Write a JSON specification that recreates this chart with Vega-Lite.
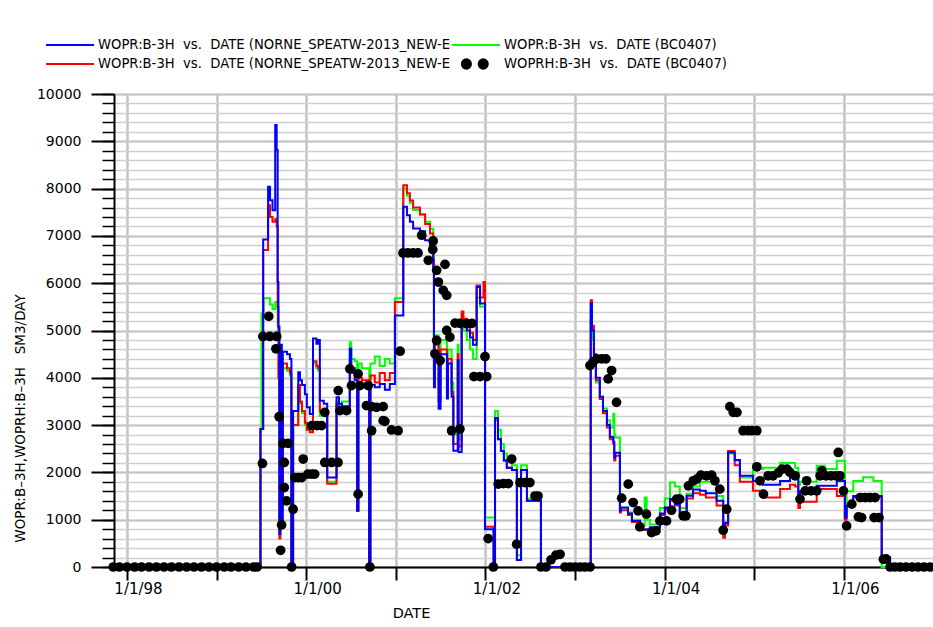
{
  "$schema": "https://vega.github.io/schema/vega-lite/v6.json",
  "width": 819,
  "height": 473,
  "autosize": {"type": "none"},
  "padding": {"left": 114, "top": 94, "right": 0, "bottom": 60},
  "background": "white",
  "config": {
    "view": {"stroke": null},
    "axis": {"labelFont": "DejaVu Sans", "titleFont": "DejaVu Sans", "labelColor": "#000", "titleColor": "#000", "titleFontWeight": "normal"}
  },
  "datasets": {
    "all": [
      {"s":"B","d":"1997-11-09","v":0},{"s":"B","d":"1999-06-29","v":2918},{"s":"B","d":"1999-07-03","v":5360},{"s":"B","d":"1999-07-12","v":5680},{"s":"B","d":"1999-08-07","v":5550},{"s":"B","d":"1999-08-17","v":5450},{"s":"B","d":"1999-08-28","v":5600},{"s":"B","d":"1999-09-07","v":5100},{"s":"B","d":"1999-09-14","v":800},{"s":"B","d":"1999-09-18","v":4300},{"s":"B","d":"1999-09-24","v":1200},{"s":"B","d":"1999-09-28","v":4200},{"s":"B","d":"1999-10-15","v":4150},{"s":"B","d":"1999-10-27","v":4050},{"s":"B","d":"1999-11-02","v":0},{"s":"B","d":"1999-11-09","v":3000},{"s":"B","d":"1999-11-30","v":3800},{"s":"B","d":"1999-12-07","v":3450},{"s":"B","d":"1999-12-15","v":3250},{"s":"B","d":"1999-12-27","v":3000},{"s":"B","d":"2000-01-04","v":2900},{"s":"B","d":"2000-01-16","v":2850},{"s":"B","d":"2000-01-29","v":4300},{"s":"B","d":"2000-02-12","v":4200},{"s":"B","d":"2000-02-19","v":4150},{"s":"B","d":"2000-02-26","v":3200},{"s":"B","d":"2000-03-13","v":3250},{"s":"B","d":"2000-03-27","v":1800},{"s":"B","d":"2000-05-04","v":3500},{"s":"B","d":"2000-05-14","v":3450},{"s":"B","d":"2000-05-26","v":3500},{"s":"B","d":"2000-06-27","v":4750},{"s":"B","d":"2000-07-03","v":4400},{"s":"B","d":"2000-07-17","v":4350},{"s":"B","d":"2000-07-27","v":1187},{"s":"B","d":"2000-08-01","v":4300},{"s":"B","d":"2000-08-15","v":4200},{"s":"B","d":"2000-09-14","v":0},{"s":"B","d":"2000-09-19","v":4300},{"s":"B","d":"2000-10-07","v":4450},{"s":"B","d":"2000-10-27","v":4250},{"s":"B","d":"2000-11-17","v":4400},{"s":"B","d":"2000-12-07","v":4300},{"s":"B","d":"2000-12-28","v":5680},{"s":"B","d":"2001-01-31","v":8000},{"s":"B","d":"2001-02-15","v":7850},{"s":"B","d":"2001-02-27","v":7700},{"s":"B","d":"2001-03-12","v":7550},{"s":"B","d":"2001-04-09","v":7450},{"s":"B","d":"2001-04-30","v":7300},{"s":"B","d":"2001-05-20","v":7150},{"s":"B","d":"2001-06-02","v":6600},{"s":"B","d":"2001-06-05","v":4200},{"s":"B","d":"2001-06-09","v":4900},{"s":"B","d":"2001-06-24","v":3800},{"s":"B","d":"2001-07-02","v":4800},{"s":"B","d":"2001-07-28","v":3900},{"s":"B","d":"2001-08-01","v":4600},{"s":"B","d":"2001-08-16","v":3900},{"s":"B","d":"2001-08-23","v":2800},{"s":"B","d":"2001-09-10","v":4700},{"s":"B","d":"2001-09-13","v":2700},{"s":"B","d":"2001-09-26","v":5300},{"s":"B","d":"2001-10-03","v":5000},{"s":"B","d":"2001-10-17","v":4800},{"s":"B","d":"2001-10-30","v":4600},{"s":"B","d":"2001-11-11","v":4400},{"s":"B","d":"2001-11-26","v":5700},{"s":"B","d":"2001-12-10","v":5500},{"s":"B","d":"2001-12-30","v":1045},{"s":"B","d":"2002-02-09","v":3300},{"s":"B","d":"2002-02-21","v":2900},{"s":"B","d":"2002-03-05","v":2600},{"s":"B","d":"2002-03-17","v":2400},{"s":"B","d":"2002-03-29","v":2250},{"s":"B","d":"2002-04-19","v":2150},{"s":"B","d":"2002-05-09","v":250},{"s":"B","d":"2002-05-26","v":2150},{"s":"B","d":"2002-06-19","v":1450},{"s":"B","d":"2002-08-15","v":0},{"s":"B","d":"2003-03-06","v":5300},{"s":"B","d":"2003-03-11","v":4800},{"s":"B","d":"2003-03-19","v":4300},{"s":"B","d":"2003-03-27","v":3900},{"s":"B","d":"2003-04-12","v":3600},{"s":"B","d":"2003-04-25","v":3350},{"s":"B","d":"2003-05-11","v":3100},{"s":"B","d":"2003-05-23","v":2950},{"s":"B","d":"2003-06-06","v":3240},{"s":"B","d":"2003-06-10","v":2800},{"s":"B","d":"2003-06-14","v":2740},{"s":"B","d":"2003-07-03","v":1250},{"s":"B","d":"2003-08-05","v":1150},{"s":"B","d":"2003-08-21","v":1000},{"s":"B","d":"2003-09-23","v":880},{"s":"B","d":"2003-10-12","v":1470},{"s":"B","d":"2003-10-20","v":1000},{"s":"B","d":"2003-11-02","v":900},{"s":"B","d":"2003-12-13","v":1250},{"s":"B","d":"2004-01-02","v":1450},{"s":"B","d":"2004-01-23","v":1787},{"s":"B","d":"2004-02-12","v":1700},{"s":"B","d":"2004-03-03","v":1250},{"s":"B","d":"2004-03-31","v":1550},{"s":"B","d":"2004-04-26","v":1700},{"s":"B","d":"2004-05-24","v":1800},{"s":"B","d":"2004-06-17","v":1800},{"s":"B","d":"2004-07-31","v":1500},{"s":"B","d":"2004-08-27","v":800},{"s":"B","d":"2004-09-03","v":950},{"s":"B","d":"2004-09-16","v":2400},{"s":"B","d":"2004-10-13","v":2250},{"s":"B","d":"2004-11-03","v":1890},{"s":"B","d":"2004-12-26","v":2070},{"s":"B","d":"2005-02-05","v":2100},{"s":"B","d":"2005-04-16","v":2200},{"s":"B","d":"2005-05-26","v":2200},{"s":"B","d":"2005-06-16","v":2100},{"s":"B","d":"2005-06-29","v":1740},{"s":"B","d":"2005-07-06","v":1800},{"s":"B","d":"2005-09-12","v":2140},{"s":"B","d":"2005-10-15","v":2070},{"s":"B","d":"2005-12-03","v":2246},{"s":"B","d":"2006-01-05","v":1100},{"s":"B","d":"2006-01-12","v":1600},{"s":"B","d":"2006-02-08","v":1820},{"s":"B","d":"2006-03-20","v":1900},{"s":"B","d":"2006-05-01","v":1820},{"s":"B","d":"2006-06-04","v":0},{"s":"B","d":"2006-12-10","v":60},{"s":"B","d":"2006-12-30","v":60},

      {"s":"C","d":"1997-11-09","v":0},{"s":"C","d":"1999-06-29","v":2918},{"s":"C","d":"1999-07-10","v":6700},{"s":"C","d":"1999-07-30","v":7650},{"s":"C","d":"1999-08-07","v":7400},{"s":"C","d":"1999-08-17","v":7300},{"s":"C","d":"1999-08-28","v":7350},{"s":"C","d":"1999-09-03","v":7200},{"s":"C","d":"1999-09-07","v":5500},{"s":"C","d":"1999-09-10","v":4000},{"s":"C","d":"1999-09-14","v":600},{"s":"C","d":"1999-09-18","v":4300},{"s":"C","d":"1999-09-24","v":1300},{"s":"C","d":"1999-09-28","v":4300},{"s":"C","d":"1999-10-15","v":4200},{"s":"C","d":"1999-10-27","v":4100},{"s":"C","d":"1999-11-02","v":0},{"s":"C","d":"1999-11-09","v":3000},{"s":"C","d":"1999-11-30","v":3850},{"s":"C","d":"1999-12-07","v":3500},{"s":"C","d":"1999-12-15","v":3300},{"s":"C","d":"1999-12-27","v":3050},{"s":"C","d":"2000-01-04","v":2900},{"s":"C","d":"2000-01-16","v":2850},{"s":"C","d":"2000-01-29","v":4350},{"s":"C","d":"2000-02-12","v":4250},{"s":"C","d":"2000-02-19","v":4200},{"s":"C","d":"2000-02-26","v":3300},{"s":"C","d":"2000-03-13","v":3300},{"s":"C","d":"2000-03-27","v":1760},{"s":"C","d":"2000-05-04","v":3450},{"s":"C","d":"2000-05-14","v":3350},{"s":"C","d":"2000-05-26","v":3300},{"s":"C","d":"2000-06-27","v":4350},{"s":"C","d":"2000-07-03","v":4100},{"s":"C","d":"2000-07-17","v":4050},{"s":"C","d":"2000-07-27","v":1187},{"s":"C","d":"2000-08-01","v":4000},{"s":"C","d":"2000-08-15","v":3950},{"s":"C","d":"2000-09-14","v":0},{"s":"C","d":"2000-09-19","v":4050},{"s":"C","d":"2000-10-07","v":3900},{"s":"C","d":"2000-10-27","v":4100},{"s":"C","d":"2000-11-17","v":3950},{"s":"C","d":"2000-12-07","v":4100},{"s":"C","d":"2000-12-28","v":5600},{"s":"C","d":"2001-01-31","v":8073},{"s":"C","d":"2001-02-15","v":7900},{"s":"C","d":"2001-02-27","v":7750},{"s":"C","d":"2001-03-12","v":7600},{"s":"C","d":"2001-04-09","v":7450},{"s":"C","d":"2001-04-30","v":7250},{"s":"C","d":"2001-05-20","v":7050},{"s":"C","d":"2001-06-02","v":6500},{"s":"C","d":"2001-06-05","v":4000},{"s":"C","d":"2001-06-09","v":4700},{"s":"C","d":"2001-06-24","v":3500},{"s":"C","d":"2001-07-02","v":4600},{"s":"C","d":"2001-07-28","v":3700},{"s":"C","d":"2001-08-01","v":4400},{"s":"C","d":"2001-08-16","v":3700},{"s":"C","d":"2001-08-23","v":2600},{"s":"C","d":"2001-09-10","v":4500},{"s":"C","d":"2001-09-13","v":2550},{"s":"C","d":"2001-09-26","v":5400},{"s":"C","d":"2001-10-03","v":5250},{"s":"C","d":"2001-10-17","v":5100},{"s":"C","d":"2001-10-30","v":4950},{"s":"C","d":"2001-11-11","v":4800},{"s":"C","d":"2001-11-26","v":5950},{"s":"C","d":"2001-12-10","v":5700},{"s":"C","d":"2001-12-24","v":6024},{"s":"C","d":"2001-12-30","v":850},{"s":"C","d":"2002-02-03","v":0},{"s":"C","d":"2002-02-09","v":3100},{"s":"C","d":"2002-02-21","v":2700},{"s":"C","d":"2002-03-05","v":2450},{"s":"C","d":"2002-03-17","v":2250},{"s":"C","d":"2002-03-29","v":2100},{"s":"C","d":"2002-04-19","v":2050},{"s":"C","d":"2002-05-09","v":150},{"s":"C","d":"2002-05-26","v":2050},{"s":"C","d":"2002-06-19","v":1400},{"s":"C","d":"2002-08-15","v":0},{"s":"C","d":"2003-03-06","v":5640},{"s":"C","d":"2003-03-11","v":5100},{"s":"C","d":"2003-03-19","v":4450},{"s":"C","d":"2003-03-27","v":3950},{"s":"C","d":"2003-04-12","v":3550},{"s":"C","d":"2003-04-25","v":3250},{"s":"C","d":"2003-05-11","v":2950},{"s":"C","d":"2003-05-23","v":2700},{"s":"C","d":"2003-06-06","v":2600},{"s":"C","d":"2003-06-10","v":2250},{"s":"C","d":"2003-06-14","v":2350},{"s":"C","d":"2003-07-03","v":1150},{"s":"C","d":"2003-07-07","v":1200},{"s":"C","d":"2003-08-05","v":1100},{"s":"C","d":"2003-08-21","v":950},{"s":"C","d":"2003-09-23","v":780},{"s":"C","d":"2003-11-02","v":820},{"s":"C","d":"2003-12-13","v":1100},{"s":"C","d":"2004-01-02","v":1230},{"s":"C","d":"2004-01-23","v":1400},{"s":"C","d":"2004-02-12","v":1300},{"s":"C","d":"2004-03-03","v":1080},{"s":"C","d":"2004-03-31","v":1450},{"s":"C","d":"2004-04-26","v":1560},{"s":"C","d":"2004-05-24","v":1530},{"s":"C","d":"2004-06-17","v":1470},{"s":"C","d":"2004-07-31","v":1300},{"s":"C","d":"2004-08-27","v":620},{"s":"C","d":"2004-09-03","v":880},{"s":"C","d":"2004-09-16","v":2450},{"s":"C","d":"2004-10-13","v":2150},{"s":"C","d":"2004-11-03","v":1800},{"s":"C","d":"2004-12-26","v":1610},{"s":"C","d":"2005-02-05","v":1470},{"s":"C","d":"2005-04-16","v":1650},{"s":"C","d":"2005-05-26","v":1740},{"s":"C","d":"2005-06-16","v":1700},{"s":"C","d":"2005-06-29","v":1250},{"s":"C","d":"2005-07-06","v":1380},{"s":"C","d":"2005-09-12","v":1650},{"s":"C","d":"2005-12-03","v":1500},{"s":"C","d":"2006-01-05","v":1000},{"s":"C","d":"2006-01-12","v":1290},{"s":"C","d":"2006-02-08","v":1480},{"s":"C","d":"2006-06-04","v":200},{"s":"C","d":"2006-07-08","v":0},{"s":"C","d":"2006-12-30","v":0},

      {"s":"A","d":"1997-11-09","v":0},{"s":"A","d":"1999-06-29","v":2918},{"s":"A","d":"1999-07-10","v":6922},{"s":"A","d":"1999-07-30","v":8040},{"s":"A","d":"1999-08-07","v":7755},{"s":"A","d":"1999-08-17","v":7543},{"s":"A","d":"1999-08-28","v":9345},{"s":"A","d":"1999-09-03","v":8815},{"s":"A","d":"1999-09-07","v":6024},{"s":"A","d":"1999-09-10","v":5071},{"s":"A","d":"1999-09-14","v":700},{"s":"A","d":"1999-09-18","v":4700},{"s":"A","d":"1999-09-24","v":950},{"s":"A","d":"1999-09-28","v":4550},{"s":"A","d":"1999-10-15","v":4500},{"s":"A","d":"1999-10-27","v":4400},{"s":"A","d":"1999-11-02","v":0},{"s":"A","d":"1999-11-09","v":3300},{"s":"A","d":"1999-11-30","v":4117},{"s":"A","d":"1999-12-07","v":3950},{"s":"A","d":"1999-12-15","v":3850},{"s":"A","d":"1999-12-27","v":3650},{"s":"A","d":"2000-01-04","v":3376},{"s":"A","d":"2000-01-16","v":3235},{"s":"A","d":"2000-01-29","v":4831},{"s":"A","d":"2000-02-12","v":4719},{"s":"A","d":"2000-02-19","v":4800},{"s":"A","d":"2000-02-26","v":3517},{"s":"A","d":"2000-03-13","v":3450},{"s":"A","d":"2000-03-27","v":1892},{"s":"A","d":"2000-05-04","v":3588},{"s":"A","d":"2000-05-14","v":3450},{"s":"A","d":"2000-05-26","v":3400},{"s":"A","d":"2000-06-27","v":4613},{"s":"A","d":"2000-07-03","v":4200},{"s":"A","d":"2000-07-17","v":3950},{"s":"A","d":"2000-07-27","v":1187},{"s":"A","d":"2000-08-01","v":3900},{"s":"A","d":"2000-08-15","v":3800},{"s":"A","d":"2000-09-14","v":0},{"s":"A","d":"2000-09-19","v":3850},{"s":"A","d":"2000-10-07","v":3800},{"s":"A","d":"2000-10-27","v":3870},{"s":"A","d":"2000-11-17","v":3750},{"s":"A","d":"2000-12-07","v":3870},{"s":"A","d":"2000-12-28","v":5319},{"s":"A","d":"2001-01-31","v":7614},{"s":"A","d":"2001-02-15","v":7438},{"s":"A","d":"2001-02-27","v":7300},{"s":"A","d":"2001-03-12","v":7156},{"s":"A","d":"2001-04-09","v":7100},{"s":"A","d":"2001-04-30","v":6908},{"s":"A","d":"2001-05-20","v":6800},{"s":"A","d":"2001-06-02","v":6272},{"s":"A","d":"2001-06-05","v":3800},{"s":"A","d":"2001-06-09","v":4500},{"s":"A","d":"2001-06-24","v":3348},{"s":"A","d":"2001-07-02","v":4500},{"s":"A","d":"2001-07-28","v":3560},{"s":"A","d":"2001-08-01","v":4300},{"s":"A","d":"2001-08-16","v":3600},{"s":"A","d":"2001-08-23","v":2458},{"s":"A","d":"2001-09-10","v":4370},{"s":"A","d":"2001-09-13","v":2430},{"s":"A","d":"2001-09-26","v":5213},{"s":"A","d":"2001-10-03","v":5100},{"s":"A","d":"2001-10-17","v":5000},{"s":"A","d":"2001-10-30","v":4850},{"s":"A","d":"2001-11-11","v":4700},{"s":"A","d":"2001-11-26","v":5918},{"s":"A","d":"2001-12-10","v":5570},{"s":"A","d":"2001-12-30","v":800},{"s":"A","d":"2002-02-03","v":0},{"s":"A","d":"2002-02-09","v":3150},{"s":"A","d":"2002-02-21","v":2700},{"s":"A","d":"2002-03-05","v":2450},{"s":"A","d":"2002-03-17","v":2250},{"s":"A","d":"2002-03-29","v":2100},{"s":"A","d":"2002-04-19","v":2050},{"s":"A","d":"2002-05-09","v":150},{"s":"A","d":"2002-05-26","v":2050},{"s":"A","d":"2002-06-19","v":1400},{"s":"A","d":"2002-08-15","v":0},{"s":"A","d":"2003-03-06","v":5570},{"s":"A","d":"2003-03-11","v":5000},{"s":"A","d":"2003-03-19","v":4500},{"s":"A","d":"2003-03-27","v":4000},{"s":"A","d":"2003-04-12","v":3600},{"s":"A","d":"2003-04-25","v":3300},{"s":"A","d":"2003-05-11","v":3000},{"s":"A","d":"2003-05-23","v":2750},{"s":"A","d":"2003-06-06","v":2650},{"s":"A","d":"2003-06-10","v":2310},{"s":"A","d":"2003-06-14","v":2415},{"s":"A","d":"2003-07-03","v":1187},{"s":"A","d":"2003-07-07","v":1257},{"s":"A","d":"2003-08-05","v":1130},{"s":"A","d":"2003-08-21","v":975},{"s":"A","d":"2003-09-23","v":800},{"s":"A","d":"2003-11-02","v":840},{"s":"A","d":"2003-12-13","v":1130},{"s":"A","d":"2004-01-02","v":1260},{"s":"A","d":"2004-01-23","v":1440},{"s":"A","d":"2004-02-12","v":1330},{"s":"A","d":"2004-03-03","v":1120},{"s":"A","d":"2004-03-31","v":1504},{"s":"A","d":"2004-04-26","v":1640},{"s":"A","d":"2004-05-24","v":1610},{"s":"A","d":"2004-06-17","v":1560},{"s":"A","d":"2004-07-31","v":1400},{"s":"A","d":"2004-08-27","v":763},{"s":"A","d":"2004-09-03","v":930},{"s":"A","d":"2004-09-16","v":2423},{"s":"A","d":"2004-10-13","v":2260},{"s":"A","d":"2004-11-03","v":1930},{"s":"A","d":"2004-12-26","v":1820},{"s":"A","d":"2005-02-05","v":1740},{"s":"A","d":"2005-04-16","v":1820},{"s":"A","d":"2005-05-26","v":1900},{"s":"A","d":"2005-06-16","v":1970},{"s":"A","d":"2005-06-29","v":1380},{"s":"A","d":"2005-07-06","v":1600},{"s":"A","d":"2005-09-12","v":1720},{"s":"A","d":"2005-12-03","v":1820},{"s":"A","d":"2006-01-05","v":1045},{"s":"A","d":"2006-01-12","v":1290},{"s":"A","d":"2006-02-08","v":1500},{"s":"A","d":"2006-06-04","v":200},{"s":"A","d":"2006-07-08","v":0},{"s":"A","d":"2006-12-30","v":0},

      {"s":"D","d":"1997-11-06","v":0},{"s":"D","d":"1997-12-01","v":0},{"s":"D","d":"1998-01-01","v":0},{"s":"D","d":"1998-02-01","v":0},{"s":"D","d":"1998-03-01","v":0},{"s":"D","d":"1998-04-01","v":0},{"s":"D","d":"1998-05-01","v":0},{"s":"D","d":"1998-06-01","v":0},{"s":"D","d":"1998-07-01","v":0},{"s":"D","d":"1998-08-01","v":0},{"s":"D","d":"1998-09-01","v":0},{"s":"D","d":"1998-10-01","v":0},{"s":"D","d":"1998-11-01","v":0},{"s":"D","d":"1998-12-01","v":0},{"s":"D","d":"1999-01-01","v":0},{"s":"D","d":"1999-02-01","v":0},{"s":"D","d":"1999-03-01","v":0},{"s":"D","d":"1999-04-01","v":0},{"s":"D","d":"1999-05-01","v":0},{"s":"D","d":"1999-06-01","v":0},{"s":"D","d":"1999-06-15","v":0},
      {"s":"D","d":"1999-07-07","v":2189},{"s":"D","d":"1999-07-09","v":4874},{"s":"D","d":"1999-08-02","v":5298},{"s":"D","d":"1999-08-06","v":4874},{"s":"D","d":"1999-08-31","v":4613},{"s":"D","d":"1999-09-03","v":4874},{"s":"D","d":"1999-09-13","v":3178},{"s":"D","d":"1999-09-19","v":353},{"s":"D","d":"1999-09-23","v":890},{"s":"D","d":"1999-09-29","v":2613},{"s":"D","d":"1999-10-04","v":2210},{"s":"D","d":"1999-10-04","v":1680},{"s":"D","d":"1999-10-13","v":1398},{"s":"D","d":"1999-10-20","v":2613},{"s":"D","d":"1999-11-03","v":0},{"s":"D","d":"1999-11-09","v":1222},{"s":"D","d":"1999-11-16","v":1892},{"s":"D","d":"1999-11-30","v":1892},{"s":"D","d":"1999-12-14","v":1892},{"s":"D","d":"1999-12-20","v":2282},
      {"s":"D","d":"2000-01-08","v":1964},{"s":"D","d":"2000-01-24","v":1964},{"s":"D","d":"2000-02-05","v":1964},{"s":"D","d":"2000-01-24","v":2988},{"s":"D","d":"2000-02-14","v":2988},{"s":"D","d":"2000-03-04","v":2988},{"s":"D","d":"2000-03-17","v":3270},{"s":"D","d":"2000-03-17","v":2210},{"s":"D","d":"2000-04-14","v":2210},{"s":"D","d":"2000-05-10","v":2210},{"s":"D","d":"2000-05-11","v":3729},{"s":"D","d":"2000-05-18","v":3306},{"s":"D","d":"2000-06-14","v":3306},{"s":"D","d":"2000-06-27","v":4189},{"s":"D","d":"2000-07-04","v":3835},{"s":"D","d":"2000-07-31","v":4083},{"s":"D","d":"2000-07-31","v":1540},{"s":"D","d":"2000-08-07","v":3835},{"s":"D","d":"2000-09-03","v":3411},{"s":"D","d":"2000-09-10","v":3835},{"s":"D","d":"2000-09-17","v":0},{"s":"D","d":"2000-09-24","v":3390},{"s":"D","d":"2000-09-24","v":2882},{"s":"D","d":"2000-10-14","v":3376},{"s":"D","d":"2000-11-10","v":3390},{"s":"D","d":"2000-11-10","v":3094},{"s":"D","d":"2000-11-17","v":3079},{"s":"D","d":"2000-12-14","v":2897},
      {"s":"D","d":"2001-01-10","v":2882},{"s":"D","d":"2001-01-18","v":4562},{"s":"D","d":"2001-01-30","v":6639},{"s":"D","d":"2001-02-19","v":6639},{"s":"D","d":"2001-03-12","v":6639},{"s":"D","d":"2001-04-01","v":6639},{"s":"D","d":"2001-04-16","v":7014},{"s":"D","d":"2001-05-13","v":6484},{"s":"D","d":"2001-05-31","v":6711},{"s":"D","d":"2001-06-02","v":6893},{"s":"D","d":"2001-06-16","v":6272},{"s":"D","d":"2001-06-16","v":4789},{"s":"D","d":"2001-06-09","v":4507},{"s":"D","d":"2001-06-23","v":6024},{"s":"D","d":"2001-06-30","v":4365},{"s":"D","d":"2001-07-13","v":5848},{"s":"D","d":"2001-07-20","v":6399},{"s":"D","d":"2001-07-27","v":5743},{"s":"D","d":"2001-07-27","v":5001},{"s":"D","d":"2001-08-09","v":4859},{"s":"D","d":"2001-08-16","v":2882},{"s":"D","d":"2001-08-30","v":5156},{"s":"D","d":"2001-09-19","v":2918},{"s":"D","d":"2001-09-19","v":5150},{"s":"D","d":"2001-10-17","v":5143},{"s":"D","d":"2001-11-07","v":5150},{"s":"D","d":"2001-11-15","v":4026},{"s":"D","d":"2001-12-10","v":4026},{"s":"D","d":"2002-01-06","v":4026},{"s":"D","d":"2001-12-30","v":4450},
      {"s":"D","d":"2002-01-12","v":600},{"s":"D","d":"2002-02-02","v":0},{"s":"D","d":"2002-02-22","v":1752},{"s":"D","d":"2002-03-15","v":1765},{"s":"D","d":"2002-04-04","v":1765},{"s":"D","d":"2002-04-18","v":2282},{"s":"D","d":"2002-05-08","v":481},{"s":"D","d":"2002-05-22","v":1786},{"s":"D","d":"2002-06-11","v":1786},{"s":"D","d":"2002-07-01","v":1786},{"s":"D","d":"2002-07-22","v":1500},{"s":"D","d":"2002-08-03","v":1500},{"s":"D","d":"2002-08-15","v":0},{"s":"D","d":"2002-09-05","v":0},{"s":"D","d":"2002-09-25","v":150},{"s":"D","d":"2002-10-15","v":250},{"s":"D","d":"2002-11-01","v":269},{"s":"D","d":"2002-11-21","v":0},{"s":"D","d":"2002-12-12","v":0},
      {"s":"D","d":"2003-01-01","v":0},{"s":"D","d":"2003-01-21","v":0},{"s":"D","d":"2003-02-10","v":0},{"s":"D","d":"2003-03-03","v":0},{"s":"D","d":"2003-03-03","v":4259},{"s":"D","d":"2003-03-15","v":4330},{"s":"D","d":"2003-03-31","v":4401},{"s":"D","d":"2003-04-20","v":4401},{"s":"D","d":"2003-05-07","v":4401},{"s":"D","d":"2003-05-16","v":3977},{"s":"D","d":"2003-05-30","v":4153},{"s":"D","d":"2003-06-19","v":3481},{"s":"D","d":"2003-07-10","v":1456},{"s":"D","d":"2003-08-06","v":1752},{"s":"D","d":"2003-08-26","v":1363},{"s":"D","d":"2003-09-15","v":1187},{"s":"D","d":"2003-09-22","v":848},{"s":"D","d":"2003-10-19","v":1117},{"s":"D","d":"2003-11-09","v":727},{"s":"D","d":"2003-11-27","v":763},{"s":"D","d":"2003-12-13","v":975},
      {"s":"D","d":"2004-01-09","v":975},{"s":"D","d":"2004-01-29","v":1201},{"s":"D","d":"2004-02-19","v":1435},{"s":"D","d":"2004-03-03","v":1435},{"s":"D","d":"2004-03-17","v":1081},{"s":"D","d":"2004-03-28","v":1081},{"s":"D","d":"2004-04-07","v":1716},{"s":"D","d":"2004-04-27","v":1822},{"s":"D","d":"2004-05-11","v":1858},{"s":"D","d":"2004-05-28","v":1943},{"s":"D","d":"2004-06-20","v":1928},{"s":"D","d":"2004-07-11","v":1943},{"s":"D","d":"2004-07-24","v":1822},{"s":"D","d":"2004-08-13","v":1646},{"s":"D","d":"2004-08-27","v":777},{"s":"D","d":"2004-09-10","v":1222},{"s":"D","d":"2004-09-23","v":3390},{"s":"D","d":"2004-10-07","v":3270},{"s":"D","d":"2004-10-22","v":3270},{"s":"D","d":"2004-11-16","v":2882},{"s":"D","d":"2004-12-05","v":2882},{"s":"D","d":"2004-12-22","v":2882},
      {"s":"D","d":"2005-01-11","v":2119},{"s":"D","d":"2005-01-11","v":2882},{"s":"D","d":"2005-01-24","v":1822},{"s":"D","d":"2005-02-07","v":1540},{"s":"D","d":"2005-02-26","v":1928},{"s":"D","d":"2005-03-18","v":1928},{"s":"D","d":"2005-04-08","v":1990},{"s":"D","d":"2005-04-24","v":2070},{"s":"D","d":"2005-05-14","v":2070},{"s":"D","d":"2005-05-26","v":2000},{"s":"D","d":"2005-06-16","v":1928},{"s":"D","d":"2005-07-06","v":1435},{"s":"D","d":"2005-07-27","v":1610},{"s":"D","d":"2005-08-02","v":1822},{"s":"D","d":"2005-08-20","v":1610},{"s":"D","d":"2005-09-12","v":1610},{"s":"D","d":"2005-09-26","v":1928},{"s":"D","d":"2005-10-03","v":2034},{"s":"D","d":"2005-10-20","v":1928},{"s":"D","d":"2005-11-10","v":1928},{"s":"D","d":"2005-11-30","v":1928},{"s":"D","d":"2005-12-09","v":2422},{"s":"D","d":"2005-12-16","v":1928},{"s":"D","d":"2005-12-30","v":1610},
      {"s":"D","d":"2006-01-12","v":869},{"s":"D","d":"2006-02-02","v":1329},{"s":"D","d":"2006-03-01","v":1060},{"s":"D","d":"2006-03-08","v":1469},{"s":"D","d":"2006-03-14","v":1045},{"s":"D","d":"2006-03-28","v":1469},{"s":"D","d":"2006-04-17","v":1469},{"s":"D","d":"2006-05-08","v":1469},{"s":"D","d":"2006-05-04","v":1045},{"s":"D","d":"2006-05-24","v":1045},{"s":"D","d":"2006-06-11","v":163},{"s":"D","d":"2006-06-22","v":170},{"s":"D","d":"2006-07-08","v":0},{"s":"D","d":"2006-07-28","v":0},{"s":"D","d":"2006-08-18","v":0},{"s":"D","d":"2006-09-11","v":0},{"s":"D","d":"2006-10-06","v":0},{"s":"D","d":"2006-10-30","v":0},{"s":"D","d":"2006-11-23","v":0},{"s":"D","d":"2006-12-18","v":0}
    ]
  },
  "data": {"name": "all"},
  "encoding": {
    "x": {
      "field": "d", "type": "temporal",
      "scale": {"type": "utc", "domain": [{"year": 1997, "month": 11, "date": 9, "utc": true}, {"year": 2006, "month": 12, "date": 30, "utc": true}]},
      "axis": {
        "values": [{"year":1998,"month":1,"date":1,"utc":true},{"year":1999,"month":1,"date":1,"utc":true},{"year":2000,"month":1,"date":1,"utc":true},{"year":2001,"month":1,"date":1,"utc":true},{"year":2002,"month":1,"date":1,"utc":true},{"year":2003,"month":1,"date":1,"utc":true},{"year":2004,"month":1,"date":1,"utc":true},{"year":2005,"month":1,"date":1,"utc":true},{"year":2006,"month":1,"date":1,"utc":true}],
        "labelExpr": "utcyear(datum.value) % 2 == 0 ? utcFormat(datum.value, '%-m/%-d/%y') : ''",
        "grid": true, "gridColor": "#c4c4c4", "gridWidth": 2.5,
        "domain": true, "domainColor": "#000", "domainWidth": 2,
        "ticks": true, "tickColor": "#000", "tickWidth": 2, "tickSize": 13,
        "labelFontSize": 15, "labelPadding": 1, "labelOffset": 11, "labelAlign": "center", "labelBaseline": "top", "labelOverlap": false, "labelFlush": false,
        "title": "DATE", "titleFontSize": 14.5, "titleX": 297, "titleY": 46, "titleAlign": "center", "titleBaseline": "middle"
      }
    },
    "color": {
      "field": "s", "type": "nominal",
      "scale": {"domain": ["A", "C", "B", "D"], "range": ["#0000ff", "#ff0000", "#00ff00", "#000000"]},
      "legend": {
        "orient": "none", "legendX": -69, "legendY": -56, "columns": 2, "columnPadding": 0, "rowPadding": 5, "padding": 0, "title": null,
        "symbolType": "stroke", "symbolSize": 2304, "symbolStrokeWidth": 2, "clipHeight": 14,
        "labelFont": "DejaVu Sans", "labelFontSize": 13.2, "labelColor": "#000", "labelOffset": 3, "labelLimit": 600,
        "labelExpr": "(datum.value == 'A' || datum.value == 'C') ? 'WOPR:B-3H\u00a0\u00a0vs.\u00a0\u00a0DATE\u00a0(NORNE_SPEATW-2013_NEW-E' : datum.value == 'B' ? 'WOPR:B-3H\u00a0\u00a0vs.\u00a0\u00a0DATE\u00a0(BC0407)' : 'WOPRH:B-3H\u00a0\u00a0vs.\u00a0\u00a0DATE\u00a0(BC0407)'",
        "encode": {
          "symbols": {
            "update": {
              "shape": {"signal": "datum.value == 'D' ? 'M-0.4,-0.2A0.19,0.2,0,1,1,-0.4,0.2A0.19,0.2,0,1,1,-0.4,-0.2ZM0.3,-0.2A0.19,0.2,0,1,1,0.3,0.2A0.19,0.2,0,1,1,0.3,-0.2Z' : 'stroke'"},
              "fill": {"signal": "datum.value == 'D' ? '#000000' : 'transparent'"},
              "stroke": {"signal": "datum.value == 'A' ? '#0000ff' : datum.value == 'B' ? '#00ff00' : datum.value == 'C' ? '#ff0000' : 'transparent'"},
              "strokeWidth": {"value": 2},
              "size": {"value": 2304},
              "opacity": {"value": 1}
            }
          }
        }
      }
    }
  },
  "layer": [
    {
      "transform": [{"filter": "datum.s == 'B'"}],
      "mark": {"type": "line", "interpolate": "step-after", "strokeWidth": 2},
      "encoding": {
        "y": {"field": "v", "type": "quantitative", "scale": {"domain": [0, 10000], "nice": false},
          "axis": {"orient": "left", "values": [0,200,400,600,800,1000,1200,1400,1600,1800,2000,2200,2400,2600,2800,3000,3200,3400,3600,3800,4000,4200,4400,4600,4800,5000,5200,5400,5600,5800,6000,6200,6400,6600,6800,7000,7200,7400,7600,7800,8000,8200,8400,8600,8800,9000,9200,9400,9600,9800,10000],
            "grid": true, "gridColor": "#d0d0d0", "gridWidth": 1.3, "tickSize": 12, "tickWidth": 1.5, "tickColor": "#000", "labels": false, "domain": false, "title": null}}
      }
    },
    {
      "transform": [{"filter": "datum.s == 'C'"}],
      "mark": {"type": "line", "interpolate": "step-after", "strokeWidth": 2},
      "encoding": {"y": {"field": "v", "type": "quantitative", "scale": {"domain": [0, 10000], "nice": false}, "axis": null}}
    },
    {
      "transform": [{"filter": "datum.s == 'A'"}],
      "mark": {"type": "line", "interpolate": "step-after", "strokeWidth": 2},
      "encoding": {"y": {"field": "v", "type": "quantitative", "scale": {"domain": [0, 10000], "nice": false}, "axis": null}}
    },
    {
      "transform": [{"filter": "datum.s == 'D'"}],
      "mark": {"type": "point", "filled": true, "opacity": 1, "shape": "circle", "size": 95, "strokeWidth": 0},
      "encoding": {
        "y": {"field": "v", "type": "quantitative", "scale": {"domain": [0, 10000], "nice": false},
          "axis": {"orient": "left", "values": [0,1000,2000,3000,4000,5000,6000,7000,8000,9000,10000], "format": "d",
            "grid": true, "gridColor": "#c4c4c4", "gridWidth": 2.2, "tickSize": 23, "tickWidth": 2, "tickColor": "#000",
            "domain": true, "domainColor": "#000", "domainWidth": 2,
            "labelFontSize": 14, "labelPadding": 10, "labelBaseline": "middle",
            "title": "WOPR:B–3H,WOPRH:B–3H\u00a0\u00a0\u00a0SM3/DAY", "titleFontSize": 13.5, "titleAngle": -90, "titleX": -94, "titleY": 324, "titleAlign": "center", "titleBaseline": "middle"}}
      }
    }
  ],
  "resolve": {"axis": {"y": "independent"}}
}
